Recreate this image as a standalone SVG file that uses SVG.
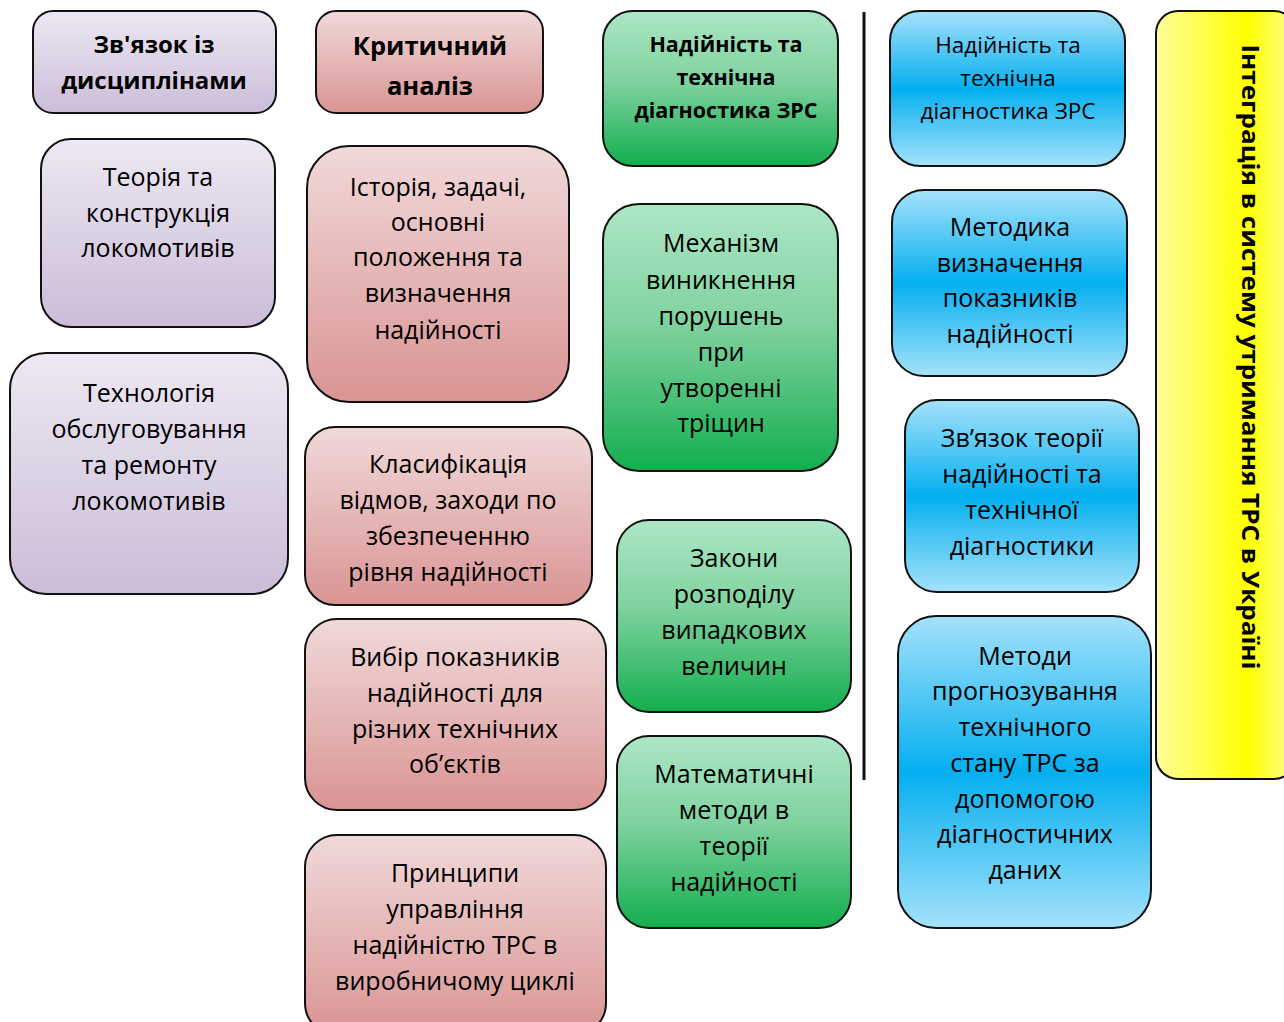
<svg xmlns="http://www.w3.org/2000/svg" width="1284" height="1022" viewBox="0 0 1284 1022">
<defs>
<linearGradient id="gPur" x1="0" y1="0" x2="0" y2="1"><stop offset="0" stop-color="#ede8f3"/><stop offset="1" stop-color="#cbbdd8"/></linearGradient>
<linearGradient id="gRed" x1="0" y1="0" x2="0" y2="1"><stop offset="0" stop-color="#f1d9d9"/><stop offset="1" stop-color="#d99493"/></linearGradient>
<linearGradient id="gGrn" x1="0" y1="0" x2="0" y2="1"><stop offset="0" stop-color="#ade6c6"/><stop offset="0.45" stop-color="#80d2a0"/><stop offset="1" stop-color="#13ae4e"/></linearGradient>
<linearGradient id="gBlu" x1="0" y1="0" x2="0" y2="1"><stop offset="0" stop-color="#a5e2fa"/><stop offset="0.5" stop-color="#04aff0"/><stop offset="1" stop-color="#a5e2fa"/></linearGradient>
<linearGradient id="gYel" x1="0" y1="0" x2="1" y2="0"><stop offset="0" stop-color="#ffff9a"/><stop offset="0.66" stop-color="#ffff00"/><stop offset="1" stop-color="#ffff9a"/></linearGradient>
</defs>
<style>
rect{stroke:#111;stroke-width:2}
.p{fill:url(#gPur)}
.r{fill:url(#gRed)}
.g{fill:url(#gGrn)}
.b{fill:url(#gBlu)}
.y{fill:url(#gYel)}
text{font-family:"Open Sans","Noto Sans",sans-serif;fill:#000;text-anchor:middle}
.t{font-size:25px}
.h{font-size:24px;font-weight:bold}
.hr{font-size:25.5px;font-weight:bold}
.hg{font-size:21.5px;font-weight:bold}
.hb{font-size:22.5px}
.vt{font-size:24px;font-weight:bold}
</style>

<g id="n-zviazok">
<rect class="p" x="33" y="11" width="243" height="102" rx="20"/>
<text class="h" x="154" y="53">Зв'язок із</text>
<text class="h" x="154" y="89">дисциплінами</text>
</g>
<g id="n-teoriya">
<rect class="p" x="41" y="139" width="234" height="188" rx="30"/>
<text class="t" x="158" y="186">Теорія та</text>
<text class="t" x="158" y="222">конструкція</text>
<text class="t" x="158" y="257">локомотивів</text>
</g>
<g id="n-tekhnolohiya">
<rect class="p" x="10" y="353" width="278" height="241" rx="36"/>
<text class="t" x="149" y="402">Технологія</text>
<text class="t" x="149" y="438">обслуговування</text>
<text class="t" x="149" y="474">та ремонту</text>
<text class="t" x="149" y="510">локомотивів</text>
</g>

<g id="n-krytychnyi">
<rect class="r" x="316" y="11" width="227" height="102" rx="20"/>
<text class="hr" x="430" y="55">Критичний</text>
<text class="hr" x="430" y="95">аналіз</text>
</g>
<g id="n-istoriya">
<rect class="r" x="307" y="146" width="262" height="256" rx="42"/>
<text class="t" x="438" y="196">Історія, задачі,</text>
<text class="t" x="438" y="231">основні</text>
<text class="t" x="438" y="266">положення та</text>
<text class="t" x="438" y="302">визначення</text>
<text class="t" x="438" y="339">надійності</text>
</g>
<g id="n-klasyfikatsiya">
<rect class="r" x="305" y="427" width="287" height="178" rx="30"/>
<text class="t" x="448" y="473">Класифікація</text>
<text class="t" x="448" y="509">відмов, заходи по</text>
<text class="t" x="448" y="545">збезпеченню</text>
<text class="t" x="448" y="581">рівня надійності</text>
</g>
<g id="n-vybir">
<rect class="r" x="305" y="619" width="301" height="191" rx="32"/>
<text class="t" x="455" y="666">Вибір показників</text>
<text class="t" x="455" y="702">надійності для</text>
<text class="t" x="455" y="738">різних технічних</text>
<text class="t" x="455" y="773">об’єктів</text>
</g>
<g id="n-pryntsypy">
<rect class="r" x="305" y="835" width="301" height="200" rx="32"/>
<text class="t" x="455" y="882">Принципи</text>
<text class="t" x="455" y="918">управління</text>
<text class="t" x="455" y="954">надійністю ТРС в</text>
<text class="t" x="455" y="990">виробничому циклі</text>
</g>

<g id="n-nadiinist-g">
<rect class="g" x="603" y="11" width="235" height="155" rx="30"/>
<text class="hg" x="726" y="52">Надійність та</text>
<text class="hg" x="726" y="85">технічна</text>
<text class="hg" x="726" y="118">діагностика ЗРС</text>
</g>
<g id="n-mekhanizm">
<rect class="g" x="603" y="204" width="235" height="267" rx="36"/>
<text class="t" x="721" y="252">Механізм</text>
<text class="t" x="721" y="289">виникнення</text>
<text class="t" x="721" y="325">порушень</text>
<text class="t" x="721" y="361">при</text>
<text class="t" x="721" y="397">утворенні</text>
<text class="t" x="721" y="432">тріщин</text>
</g>
<g id="n-zakony">
<rect class="g" x="617" y="520" width="234" height="192" rx="32"/>
<text class="t" x="734" y="567">Закони</text>
<text class="t" x="734" y="603">розподілу</text>
<text class="t" x="734" y="639">випадкових</text>
<text class="t" x="734" y="675">величин</text>
</g>
<g id="n-matematychni">
<rect class="g" x="617" y="736" width="234" height="192" rx="32"/>
<text class="t" x="734" y="783">Математичні</text>
<text class="t" x="734" y="819">методи в</text>
<text class="t" x="734" y="855">теорії</text>
<text class="t" x="734" y="891">надійності</text>
</g>

<g id="connectors">
<line x1="864" y1="12" x2="864" y2="780" stroke="#111" stroke-width="3"/>
</g>

<g id="n-nadiinist-b">
<rect class="b" x="890" y="11" width="235" height="155" rx="30"/>
<text class="hb" x="1008" y="53">Надійність та</text>
<text class="hb" x="1008" y="86">технічна</text>
<text class="hb" x="1008" y="119">діагностика ЗРС</text>
</g>
<g id="n-metodyka">
<rect class="b" x="892" y="190" width="235" height="186" rx="32"/>
<text class="t" x="1010" y="236">Методика</text>
<text class="t" x="1010" y="272">визначення</text>
<text class="t" x="1010" y="307">показників</text>
<text class="t" x="1010" y="343">надійності</text>
</g>
<g id="n-zviazok-teorii">
<rect class="b" x="905" y="400" width="234" height="192" rx="32"/>
<text class="t" x="1022" y="447">Зв’язок теорії</text>
<text class="t" x="1022" y="483">надійності та</text>
<text class="t" x="1022" y="519">технічної</text>
<text class="t" x="1022" y="555">діагностики</text>
</g>
<g id="n-metody">
<rect class="b" x="898" y="616" width="253" height="312" rx="38"/>
<text class="t" x="1025" y="665">Методи</text>
<text class="t" x="1025" y="700">прогнозування</text>
<text class="t" x="1025" y="736">технічного</text>
<text class="t" x="1025" y="772">стану ТРС за</text>
<text class="t" x="1025" y="808">допомогою</text>
<text class="t" x="1025" y="843">діагностичних</text>
<text class="t" x="1025" y="879">даних</text>
</g>

<g id="n-integratsiya">
<rect class="y" x="1156" y="11" width="140" height="768" rx="22"/>
<text class="vt" transform="translate(1242,357) rotate(90)" x="0" y="0" textLength="625" lengthAdjust="spacingAndGlyphs">Інтеграція в систему утримання ТРС в Україні</text>
</g>
</svg>
